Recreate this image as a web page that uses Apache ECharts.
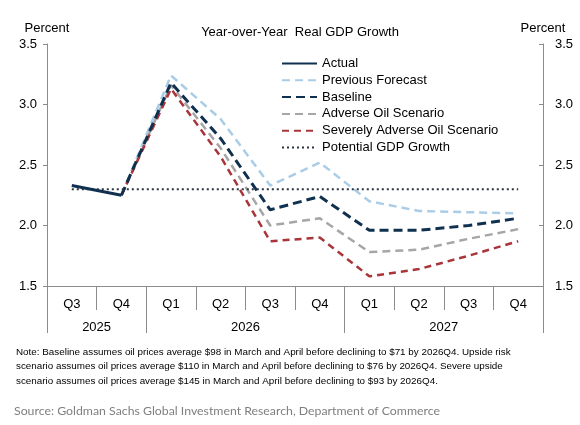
<!DOCTYPE html>
<html><head><meta charset="utf-8">
<script src="https://cdn.jsdelivr.net/npm/echarts@6/dist/echarts.min.js"></script>
<style>html,body{margin:0;padding:0;background:#fff}#c{width:580px;height:425px}</style>
</head><body><div id="c"></div>
<script>
const quarters = ['Q3','Q4','Q1','Q2','Q3','Q4','Q1','Q2','Q3','Q4'];
const years = ['2025','2026','2027'];
const yearSpans = [2, 4, 4];
const actual    = [2.33, 2.25, null, null, null, null, null, null, null, null];
const previous  = [null, 2.25, 3.24, 2.88, 2.33, 2.52, 2.20, 2.12, 2.11, 2.10];
const baseline  = [null, 2.25, 3.18, 2.72, 2.13, 2.24, 1.96, 1.96, 2.00, 2.06];
const adverse   = [null, 2.25, 3.16, 2.64, 2.00, 2.06, 1.78, 1.80, 1.89, 1.97];
const severe    = [null, 2.25, 3.13, 2.57, 1.87, 1.90, 1.58, 1.64, 1.75, 1.87];
const potential = [2.30, 2.30, 2.30, 2.30, 2.30, 2.30, 2.30, 2.30, 2.30, 2.30];
const yTicks = [1.5, 2.0, 2.5, 3.0, 3.5];

// year boundaries and centres in quarter units
const yearBounds = [0]; const yearCenters = [];
yearSpans.forEach(s => { const b = yearBounds[yearBounds.length-1]; yearCenters.push(b + s/2); yearBounds.push(b + s); });

const FONT = "'Liberation Sans', Arial, sans-serif";
const AX = '#8c8c8c';
const chart = echarts.init(document.getElementById('c'), null, {renderer:'canvas'});

const yAxisBase = (pos) => ({
  type:'value', position:pos, min:yTicks[0], max:yTicks[yTicks.length-1], interval:0.5,
  name:'Percent', nameLocation:'end', nameGap:9,
  nameTextStyle:{color:'#000', fontSize:13, fontFamily:FONT, align:'center'},
  axisLine:{show:true, lineStyle:{color:AX, width:1}},
  axisTick:{show:true, inside: pos==='right', length:4, lineStyle:{color:AX}},
  axisLabel:{color:'#000', fontSize:13, fontFamily:FONT, margin: pos==='right' ? 12 : 10, formatter:v=>v.toFixed(1)},
  splitLine:{show:false}
});

const mk = (name, data, color, type, width, z) => ({
  name, type:'line', data, symbol:'none', z, connectNulls:false,
  lineStyle:{color, type, width, cap:'butt'}, itemStyle:{color}
});

chart.setOption({
  animation:false,
  title:{text:'Year-over-Year  Real GDP Growth', left:295, top:21, textAlign:'center',
    textStyle:{fontSize:13, fontWeight:'normal', color:'#000', fontFamily:FONT}},
  legend:{orient:'vertical', left:281, top:57, padding:0, itemWidth:35, itemHeight:14, itemGap:3.8,
    itemStyle:{opacity:0, borderWidth:0},
    textStyle:{fontSize:13, color:'#000', fontFamily:FONT},
    data:['Actual','Previous Forecast','Baseline','Adverse Oil Scenario','Severely Adverse Oil Scenario','Potential GDP Growth']},
  grid:{left:47, right:37, top:44, bottom:139, containLabel:false},
  xAxis:[
    {type:'category', data:quarters, boundaryGap:true, position:'bottom',
     axisLine:{show:true, lineStyle:{color:AX}},
     axisTick:{show:true, length:24, lineStyle:{color:AX}},
     axisLabel:{color:'#000', fontSize:13, fontFamily:FONT, margin:12}},
    {type:'value', min:0, max:quarters.length, position:'bottom', gridIndex:0,
     axisLine:{show:false}, splitLine:{show:false},
     axisTick:{show:true, length:47, customValues:yearBounds, lineStyle:{color:AX}},
     axisLabel:{show:true, customValues:yearCenters, color:'#000', fontSize:13, fontFamily:FONT, margin:35,
       formatter:v=>{const i=yearCenters.indexOf(v); return i>=0?years[i]:'';}}}
  ],
  yAxis:[yAxisBase('left'), yAxisBase('right')],
  series:[
    mk('Previous Forecast', previous, '#a9cde6', [8,5], 2.5, 2),
    mk('Adverse Oil Scenario', adverse, '#a6a6a6', [8,5], 2.5, 3),
    mk('Severely Adverse Oil Scenario', severe, '#a9343a', [7,5], 2.5, 4),
    mk('Baseline', baseline, '#10304f', [9,5], 3, 5),
    mk('Potential GDP Growth', potential, '#2b3440', [2,3], 2, 6),
    mk('Actual', actual, '#10304f', 'solid', 3, 7)
  ],
  graphic:[
    {type:'text', left:16, top:345, style:{
      text:'Note: Baseline assumes oil prices average $98 in March and April before declining to $71 by 2026Q4. Upside risk\nscenario assumes oil prices average $110 in March and April before declining to $76 by 2026Q4. Severe upside\nscenario assumes oil prices average $145 in March and April before declining to $93 by 2026Q4.',
      fontSize:9.85, lineHeight:14.5, fontFamily:FONT, fill:'#000'}},
    {type:'text', left:14, top:405, style:{
      text:'Source: Goldman Sachs Global Investment Research, Department of Commerce',
      fontSize:12.3, fontFamily:"Lato, 'Open Sans', sans-serif", fill:'#7f7f7f'}}
  ]
});
</script></body></html>
